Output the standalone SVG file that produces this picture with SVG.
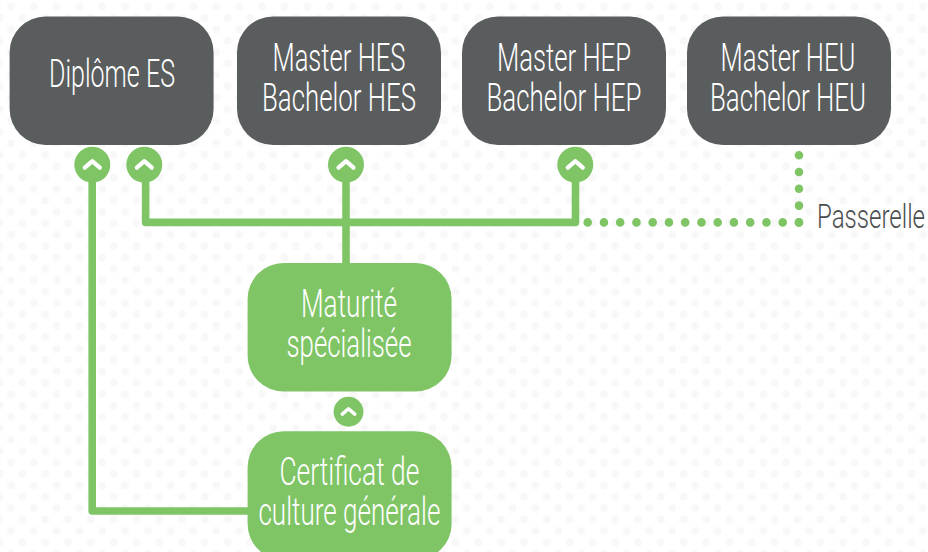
<svg xmlns="http://www.w3.org/2000/svg" width="928" height="552" viewBox="0 0 928 552">
<defs>
<pattern id="dots" width="22.8" height="22.8" patternUnits="userSpaceOnUse" x="0" y="-4.8">
<circle cx="11" cy="11.4" r="3.9" fill="#f8f8f8"/><circle cx="22.4" cy="0" r="3.9" fill="#f8f8f8"/><circle cx="-0.4" cy="0" r="3.9" fill="#f8f8f8"/><circle cx="22.4" cy="22.8" r="3.9" fill="#f8f8f8"/><circle cx="-0.4" cy="22.8" r="3.9" fill="#f8f8f8"/>
</pattern>
<g id="chev"><circle r="18" fill="#7fc566"/><path d="M-7.5 3L0-3.5L7.5 3" fill="none" stroke="#fff" stroke-width="4.2" stroke-linecap="round" stroke-linejoin="round"/></g>
</defs>
<style>
text{font-family:"Roboto","Liberation Sans",sans-serif;font-weight:300;font-size:38px;text-anchor:middle;fill:#fff}
.d{fill:#5a5d5e}.g{fill:#7fc566}
.l{fill:none;stroke:#7fc566;stroke-width:7.6;stroke-linecap:round;stroke-linejoin:round}
.p{fill:none;stroke:#7fc566;stroke-width:8.6;stroke-linecap:round}
</style>
<rect width="928" height="552" fill="#fff"/><rect width="928" height="552" fill="url(#dots)"/>
<g id="connectors">
<path class="l" d="M92.2 165V511H250"/>
<path class="l" d="M145.6 165V222.4H575.5V165"/>
<path class="l" d="M346 165V270"/>
<path class="p" stroke-dasharray="0 16.25" d="M587.7 222.4H799"/>
<path class="p" stroke-dasharray="0 16.8" d="M799 222.4V155"/>
</g>
<g id="n1"><rect class="d" x="9.6" y="16.4" width="204" height="128.6" rx="36"/><text x="112" y="87" textLength="126" lengthAdjust="spacingAndGlyphs">Diplôme ES</text></g>
<g id="n2"><rect class="d" x="237" y="16.4" width="204" height="128.6" rx="36"/><text x="339" y="71" textLength="133" lengthAdjust="spacingAndGlyphs">Master HES</text><text x="339" y="111" textLength="154" lengthAdjust="spacingAndGlyphs">Bachelor HES</text></g>
<g id="n3"><rect class="d" x="462" y="16.4" width="204" height="128.6" rx="36"/><text x="564" y="71" textLength="134" lengthAdjust="spacingAndGlyphs">Master HEP</text><text x="564" y="111" textLength="155" lengthAdjust="spacingAndGlyphs">Bachelor HEP</text></g>
<g id="n4"><rect class="d" x="687" y="16.4" width="204" height="128.6" rx="36"/><text x="788" y="71" textLength="135" lengthAdjust="spacingAndGlyphs">Master HEU</text><text x="788" y="111" textLength="156" lengthAdjust="spacingAndGlyphs">Bachelor HEU</text></g>
<g id="n5"><rect class="g" x="247.6" y="263" width="204" height="128.6" rx="36"/><text x="349" y="317" textLength="96" lengthAdjust="spacingAndGlyphs">Maturité</text><text x="349" y="357" textLength="125" lengthAdjust="spacingAndGlyphs">spécialisée</text></g>
<g id="n6"><rect class="g" x="247.6" y="431.3" width="204" height="128.6" rx="36"/><text x="349.4" y="485" textLength="140" lengthAdjust="spacingAndGlyphs">Certificat de</text><text x="349.4" y="525" textLength="182" lengthAdjust="spacingAndGlyphs">culture générale</text></g>
<g id="c1"><use href="#chev" x="92.3" y="164.7"/></g>
<g id="c2"><use href="#chev" x="144.3" y="164.7"/></g>
<g id="c3"><use href="#chev" x="346" y="164.7"/></g>
<g id="c4"><use href="#chev" x="575.3" y="164.7"/></g>
<g id="c5"><use href="#chev" transform="translate(348.5 411.7) scale(.83)"/></g>
<g id="passerelle"><text x="871" y="228" style="font-size:34px;fill:#4a4d4e" textLength="108" lengthAdjust="spacingAndGlyphs">Passerelle</text></g>
</svg>
